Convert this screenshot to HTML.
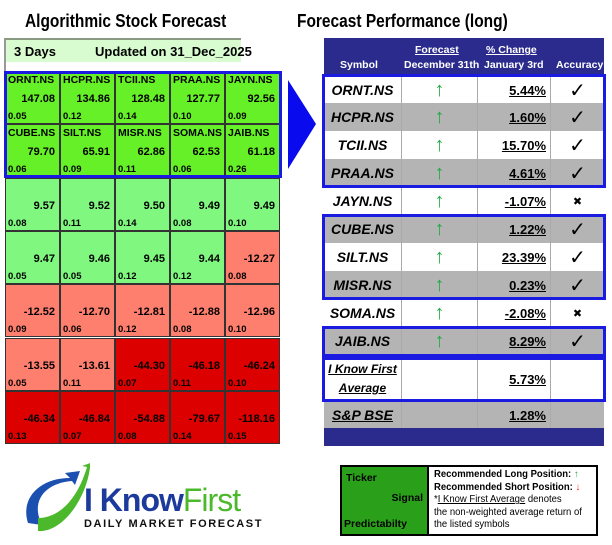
<!DOCTYPE html>
<html><head><meta charset="utf-8"><style>
*{margin:0;padding:0;box-sizing:border-box}
body{width:612px;height:545px;background:#fff;position:relative;overflow:hidden;font-family:"Liberation Sans",Arial,sans-serif;font-weight:bold;color:#000}
.a{position:absolute}
.c{position:absolute;width:55px;height:53px;border:1px solid #333;font-size:10px}
.c .t{position:absolute;left:2px;top:2px;font-size:10.5px}
.c .v{position:absolute;right:4px;top:21px;font-size:11px}
.c .p{position:absolute;left:2px;bottom:1px;font-size:9.5px}
.r{position:absolute;left:324px;width:280px;height:28px;font-size:13px}
.r div{position:absolute;top:0;height:100%;border-right:1px solid #aaa;display:flex;align-items:center}
.s{left:0;width:78px;justify-content:center;font-style:italic;font-size:14px}
.f{left:78px;width:76px;justify-content:center;color:#22aa44;font-size:20px;font-weight:normal}
.g{left:154px;width:73px;justify-content:flex-end;padding-right:4px;text-decoration:underline}
.k{left:227px;width:53px;justify-content:center;font-size:20px;border-right:none!important;font-family:"DejaVu Sans",sans-serif}
.box{position:absolute;border:3px solid #1a1ae0;left:322px;width:284px}
</style></head><body>
<div class="a" style="left:25px;top:11px;font-size:18px;transform:scaleX(0.86);transform-origin:0 0;white-space:nowrap">Algorithmic Stock Forecast</div>
<div class="a" style="left:297px;top:11px;font-size:18px;transform:scaleX(0.86);transform-origin:0 0;white-space:nowrap">Forecast Performance (long)</div>

<div class="a" style="left:4px;top:38px;width:237px;height:34px;border-left:2px solid #999;border-top:2px solid #8a9a80"></div>
<div class="a" style="left:6px;top:40px;width:235px;height:22px;background:#d8fcd0;font-size:13px;white-space:nowrap"><span class="a" style="left:8px;top:4px">3 Days</span><span class="a" style="left:89px;top:4px">Updated on 31_Dec_2025</span></div>

<div id="grid"></div>
<div class="a" style="left:4px;top:71px;width:278px;height:107px;border:3px solid #1a1ae0"></div>

<svg class="a" style="left:287px;top:79px" width="30" height="92"><polygon points="1,1 29,45 1,90" fill="#0a0aee"/></svg>

<div class="a" style="left:324px;top:38px;width:280px;height:38px;background:#2b2b8e;color:#fff;font-size:10.5px">
<span class="a" style="left:16px;top:21px">Symbol</span>
<span class="a" style="left:91px;top:6px;text-decoration:underline">Forecast</span>
<span class="a" style="left:80px;top:21px">December 31th</span>
<span class="a" style="left:162px;top:6px;text-decoration:underline">% Change</span>
<span class="a" style="left:160px;top:21px">January 3rd</span>
<span class="a" style="left:232px;top:21px">Accuracy</span>
</div>
<div id="rows"></div>
<div class="a" style="left:324px;top:428px;width:280px;height:18px;background:#2b2b8e"></div>
<div class="box" style="top:74px;height:114px"></div>
<div class="box" style="top:214px;height:86px"></div>
<div class="box" style="top:326px;height:31px"></div>
<div class="box" style="top:357px;height:45px"></div>

<div class="a" style="left:340px;top:465px;width:258px;height:71px;border:2px solid #000;font-size:10px">
<div class="a" style="left:0;top:0;width:87px;height:67px;background:#2aa01a;border-right:2px solid #000;font-size:10.5px">
<span class="a" style="left:4px;top:5px">Ticker</span><span class="a" style="right:4px;top:25px">Signal</span><span class="a" style="left:2px;top:51px">Predictabilty</span></div>
<div class="a" style="left:92px;top:2px;line-height:12.6px;font-weight:normal;font-size:10px;white-space:nowrap;transform:scaleX(0.95);transform-origin:0 0">
<b>Recommended Long Position: <span style="color:#22aa44">↑</span></b><br><b>Recommended Short Position: <span style="color:#e22">↓</span></b><br>*<u>I Know First Average</u> denotes<br>the non-weighted average return of<br>the listed symbols</div>
</div>

<svg class="a" style="left:20px;top:463px" width="70" height="75"><path d="M8,60 C0,35 20,15 50,15 L45,10 L60,8 L55,22 L52,18 C25,20 10,38 22,62 Z" fill="#1c50b0"/><path d="M18,68 C40,70 65,40 70,5 L80,10 L76,-2 L62,3 L67,4 C58,35 40,55 18,55 Z" fill="#4cb82c"/></svg>
<div class="a" style="left:84px;top:482px;font-size:32px;color:#1c3a9c;letter-spacing:-1px;font-weight:bold">I Know<span style="color:#4cb82c;font-weight:normal">First</span></div>
<div class="a" style="left:84px;top:518px;font-size:11px;letter-spacing:1.6px;color:#111">DAILY MARKET FORECAST</div>

<script>
var d=[["ORNT.NS","147.08","0.05"],["HCPR.NS","134.86","0.12"],["TCII.NS","128.48","0.14"],["PRAA.NS","127.77","0.10"],["JAYN.NS","92.56","0.09"],
["CUBE.NS","79.70","0.06"],["SILT.NS","65.91","0.09"],["MISR.NS","62.86","0.11"],["SOMA.NS","62.53","0.06"],["JAIB.NS","61.18","0.26"],
["","9.57","0.08"],["","9.52","0.11"],["","9.50","0.14"],["","9.49","0.08"],["","9.49","0.10"],
["","9.47","0.05"],["","9.46","0.05"],["","9.45","0.12"],["","9.44","0.12"],["","-12.27","0.08"],
["","-12.52","0.09"],["","-12.70","0.06"],["","-12.81","0.12"],["","-12.88","0.08"],["","-12.96","0.10"],
["","-13.55","0.05"],["","-13.61","0.11"],["","-44.30","0.07"],["","-46.18","0.11"],["","-46.24","0.10"],
["","-46.34","0.13"],["","-46.84","0.07"],["","-54.88","0.08"],["","-79.67","0.14"],["","-118.16","0.15"]];
var h="";d.forEach(function(e,i){var r=Math.floor(i/5),c=i%5,v=parseFloat(e[1]);
var bg=r<2?"#66f028":(v>0?"#80f880":(v>-20?"#ff7f6e":"#dc0000"));
h+='<div class="c" style="left:'+(5+c*55)+'px;top:'+(71+r*53.3)+'px;background:'+bg+'"><span class="t">'+e[0]+'</span><span class="v">'+e[1]+'</span><span class="p">'+e[2]+'</span></div>';});
document.getElementById("grid").innerHTML=h;
var R=[["ORNT.NS","5.44%","✓",0,76],["HCPR.NS","1.60%","✓",1,103],["TCII.NS","15.70%","✓",0,131],["PRAA.NS","4.61%","✓",1,159],["JAYN.NS","-1.07%","✖",0,187],
["CUBE.NS","1.22%","✓",1,215],["SILT.NS","23.39%","✓",0,243],["MISR.NS","0.23%","✓",1,271],["SOMA.NS","-2.08%","✖",0,299],["JAIB.NS","8.29%","✓",1,327]];
h="";R.forEach(function(e){h+='<div class="r" style="top:'+e[4]+'px;background:'+(e[3]?'#b4b4b4':'#fff')+'"><div class="s">'+e[0]+'</div><div class="f">↑</div><div class="g">'+e[1]+'</div><div class="k" style="font-size:'+(e[2]=="✖"?11:20)+'px">'+e[2]+'</div></div>';});
h+='<div class="r" style="top:357px;height:44px;background:#fff"><div class="s" style="font-size:12px;text-decoration:underline;text-align:center;line-height:19px">I Know First<br>Average</div><div class="f"></div><div class="g">5.73%</div><div class="k"></div></div>';
h+='<div class="r" style="top:401px;background:#b4b4b4"><div class="s" style="text-decoration:underline">S&amp;P BSE</div><div class="f"></div><div class="g">1.28%</div><div class="k"></div></div>';
document.getElementById("rows").innerHTML=h;
</script>
</body></html>
